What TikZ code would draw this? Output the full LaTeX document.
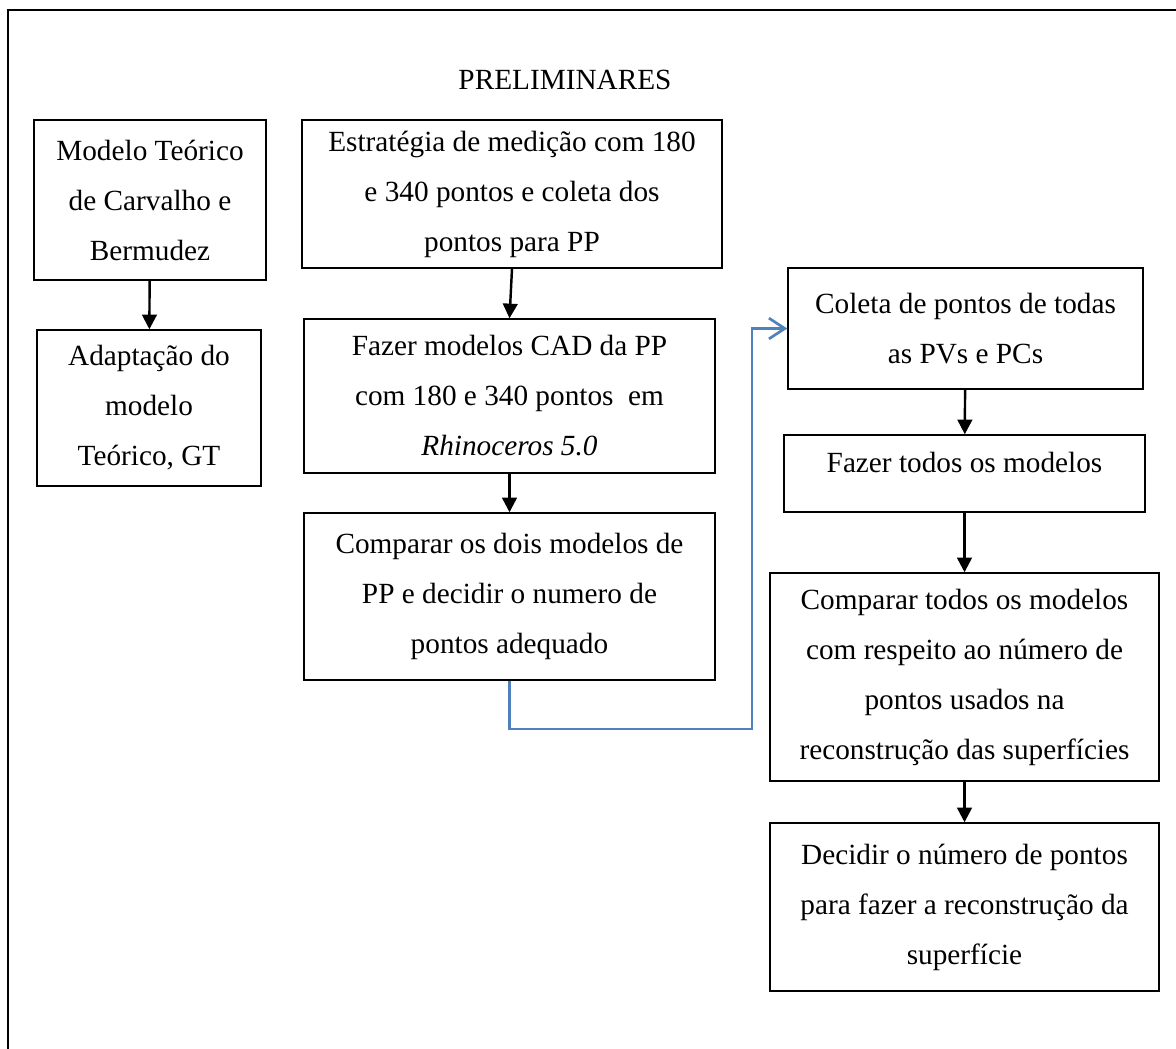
\documentclass[tikz,border=0pt]{standalone}
\usepackage{fontspec}
\setmainfont{Liberation Serif}
\usetikzlibrary{arrows.meta}

\newlength\unitLen
\setlength\unitLen{0.41pt}
\definecolor{linkBlue}{HTML}{4F81BD}

\begin{document}
\begin{tikzpicture}[x=\unitLen,y=-\unitLen,
    stepBox/.style={draw,line width=0.6pt,align=center,inner sep=0pt,
      font=\fontsize{12}{20.5}\selectfont},
    downArrow/.style={line width=1pt,-{Triangle[length=6pt,width=6pt]}},
    loopArrow/.style={draw=linkBlue,line width=1.1pt,-{Straight Barb[length=6.5pt,width=8.5pt]}},
    outerFrame/.style={line width=0.9pt}]
    \useasboundingbox (0,0) rectangle (1176,1048);
    \draw[outerFrame] (8,10) rectangle (1200,1100);

    \node (title) at (565,80) {\fontsize{12}{14}\selectfont PRELIMINARES};

    % left column
    \node[stepBox,minimum width=232\unitLen,minimum height=160\unitLen] (modelo) at (150,200)
      {Modelo Teórico\\de Carvalho e\\Bermudez};
    \node[stepBox,minimum width=224\unitLen,minimum height=156\unitLen] (adapta) at (149,408)
      {Adaptação do\\modelo\\Teórico, GT};

    % middle column
    \node[stepBox,minimum width=420\unitLen,minimum height=148\unitLen] (estrat) at (512,194)
      {Estratégia de medição com 180\\e 340 pontos e coleta dos\\pontos para PP};
    \node[stepBox,minimum width=411\unitLen,minimum height=154\unitLen] (cadPP) at (509.5,396)
      {Fazer modelos CAD da PP\\com 180 e 340 pontos\ \ em\\\textit{Rhinoceros 5.0}};
    \node[stepBox,minimum width=411\unitLen,minimum height=167\unitLen] (compPP) at (509.5,596.5)
      {Comparar os dois modelos de\\PP e decidir o numero de\\pontos adequado};

    % right column
    \node[stepBox,minimum width=355\unitLen,minimum height=121\unitLen] (coleta) at (965.5,328.5)
      {Coleta de pontos de todas\\as PVs e PCs};
    \node[stepBox,minimum width=361\unitLen,text height=37\unitLen,text depth=40\unitLen] (todos) at (964.5,473.5)
      {Fazer todos os modelos};
    \node[stepBox,minimum width=389\unitLen,minimum height=208\unitLen] (compTodos) at (964.5,677)
      {Comparar todos os modelos\\com respeito ao número de\\pontos usados na\\reconstrução das superfícies};
    \node[stepBox,minimum width=389\unitLen,minimum height=168\unitLen] (decidir) at (964.5,907)
      {Decidir o número de pontos\\para fazer a reconstrução da\\superfície};

    \draw[downArrow] (modelo) -- (adapta);
    \draw[downArrow] (estrat.south) -- (cadPP.north);
    \draw[downArrow] (cadPP) -- (compPP);
    \draw[downArrow] (coleta) -- (todos);
    \draw[downArrow] (todos) -- (compTodos);
    \draw[downArrow] (compTodos) -- (decidir);

    \coordinate (turn) at (752,729);
    \draw[loopArrow] (compPP.south) |- (turn) |- (coleta.west);
\end{tikzpicture}
\end{document}
